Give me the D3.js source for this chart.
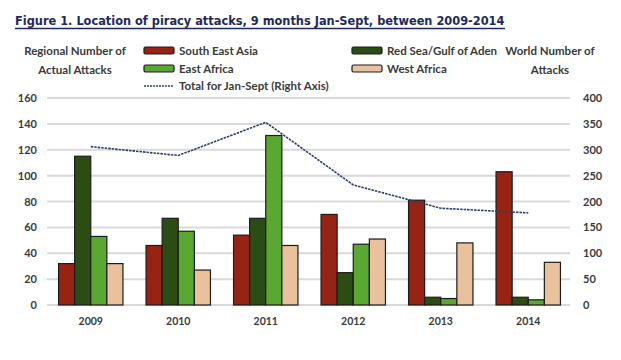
<!DOCTYPE html>
<html><head><meta charset="utf-8">
<script src="https://cdn.jsdelivr.net/npm/d3@7"></script>
<style>body{margin:0;background:#fff}svg{display:block}</style>
</head><body>
<script>
const years = ["2009","2010","2011","2012","2013","2014"];
const seriesNames = ["South East Asia","Red Sea/Gulf of Aden","East Africa","West Africa"];
const southEastAsia = [32, 46, 54, 70, 81, 103];
const redSea = [115, 67, 67, 25, 6, 6];
const eastAfrica = [53, 57, 131, 47, 5, 4];
const westAfrica = [32, 27, 46, 51, 48, 33];
const totalJanSept = [306, 289, 353, 232, 187, 178];
const leftTicks = [0,20,40,60,80,100,120,140,160];
const rightTicks = [0,50,100,150,200,250,300,350,400];
const colors = ["#962314","#2b4c12","#5aa832","#e9c19c"];

const W=621,H=360;
const svg=d3.select("body").append("svg").attr("width",W).attr("height",H);
const font="Lato, 'Open Sans', sans-serif";
const txt="#3a3a3a";

// title
const title=svg.append("text").attr("x",15).attr("y",25)
  .attr("font-family","'Liberation Sans Narrow','Arial Narrow','DejaVu Sans Condensed',sans-serif")
  .attr("font-weight","bold").attr("font-size",16).attr("fill","#1f2a5c")
  .text("Figure 1. Location of piracy attacks, 9 months Jan-Sept, between 2009-2014");
const tw=title.node().getComputedTextLength();
if(tw>0) title.attr("font-size",Math.min(19,16*490/tw));
svg.append("line").attr("x1",15).attr("x2",505).attr("y1",28.5).attr("y2",28.5)
  .attr("stroke","#1f2a5c").attr("stroke-width",1.3);

const x=d3.scaleBand().domain(years).range([47,572]).padding(0);
const groupW=64.4;
const xs=d3.scaleBand().domain(seriesNames).range([0,groupW]).padding(0);
const yL=d3.scaleLinear().domain([0,160]).range([305,98]);
const yR=d3.scaleLinear().domain([0,400]).range([305,98]);

// gridlines
svg.append("g").selectAll("line").data(leftTicks).join("line")
  .attr("x1",47).attr("x2",570).attr("y1",d=>yL(d)).attr("y2",d=>yL(d))
  .attr("stroke","#d9d9d9").attr("stroke-width",2);

// left axis
const la=svg.append("g").attr("transform","translate(47,0)")
  .call(d3.axisLeft(yL).tickValues(leftTicks).tickSize(0).tickPadding(10));
la.select(".domain").remove();
la.selectAll("text").attr("font-family",font).attr("font-weight","bold").attr("font-size",11).attr("fill",txt);

const ra=svg.append("g").attr("transform","translate(572,0)")
  .call(d3.axisRight(yR).tickValues(rightTicks).tickSize(0).tickPadding(11));
ra.select(".domain").remove();
ra.selectAll("text").attr("font-family",font).attr("font-weight","bold").attr("font-size",11).attr("fill",txt);

const xa=svg.append("g").attr("transform","translate(0,312)")
  .call(d3.axisBottom(x).tickSize(0).tickPadding(6));
xa.select(".domain").remove();
xa.selectAll("text").attr("font-family",font).attr("font-weight","bold").attr("font-size",10.5).attr("fill",txt);

// bars
const seriesVals=[southEastAsia,redSea,eastAfrica,westAfrica];
const off=(x.bandwidth()-groupW)/2;
seriesNames.forEach((s,si)=>{
  svg.append("g").selectAll("rect").data(years).join("rect")
    .attr("x",(d)=>x(d)+off+xs(s))
    .attr("y",(d,i)=>yL(seriesVals[si][i]))
    .attr("width",xs.bandwidth())
    .attr("height",(d,i)=>yL(0)-yL(seriesVals[si][i]))
    .attr("fill",colors[si]).attr("stroke","#1c1c1c").attr("stroke-width",1.2);
});

// line
const line=d3.line().x((d,i)=>x(years[i])+x.bandwidth()/2).y(d=>yR(d));
svg.append("path").datum(totalJanSept).attr("d",line).attr("fill","none")
  .attr("stroke","#2f3d6e").attr("stroke-width",1.6).attr("stroke-dasharray","2.5,1");

// legend
const lg=svg.append("g").attr("font-family",font).attr("font-weight","bold").attr("font-size",11.5).attr("fill",txt);
lg.append("text").attr("x",75).attr("y",55).attr("text-anchor","middle").text("Regional Number of");
lg.append("text").attr("x",75).attr("y",74).attr("text-anchor","middle").text("Actual Attacks");
lg.append("text").attr("x",550).attr("y",55).attr("text-anchor","middle").text("World Number of");
lg.append("text").attr("x",550).attr("y",74).attr("text-anchor","middle").text("Attacks");
const items=[
  {name:seriesNames[0],c:colors[0],x:144,y:50.5},
  {name:seriesNames[2],c:colors[2],x:144,y:68.5},
  {name:seriesNames[1],c:colors[1],x:352,y:50.5},
  {name:seriesNames[3],c:colors[3],x:352,y:68.5}];
items.forEach(it=>{
  lg.append("rect").attr("x",it.x).attr("y",it.y-3.5).attr("width",30).attr("height",7).attr("rx",1.5)
    .attr("fill",it.c).attr("stroke","#1c1c1c").attr("stroke-width",1.2);
  lg.append("text").attr("x",it.x+35).attr("y",it.y+4).text(it.name);
});
lg.append("line").attr("x1",144).attr("x2",174).attr("y1",86).attr("y2",86)
  .attr("stroke","#2f3d6e").attr("stroke-width",1.3).attr("stroke-dasharray","2,1");
lg.append("text").attr("x",179).attr("y",90).text("Total for Jan-Sept (Right Axis)");
</script>
</body></html>
